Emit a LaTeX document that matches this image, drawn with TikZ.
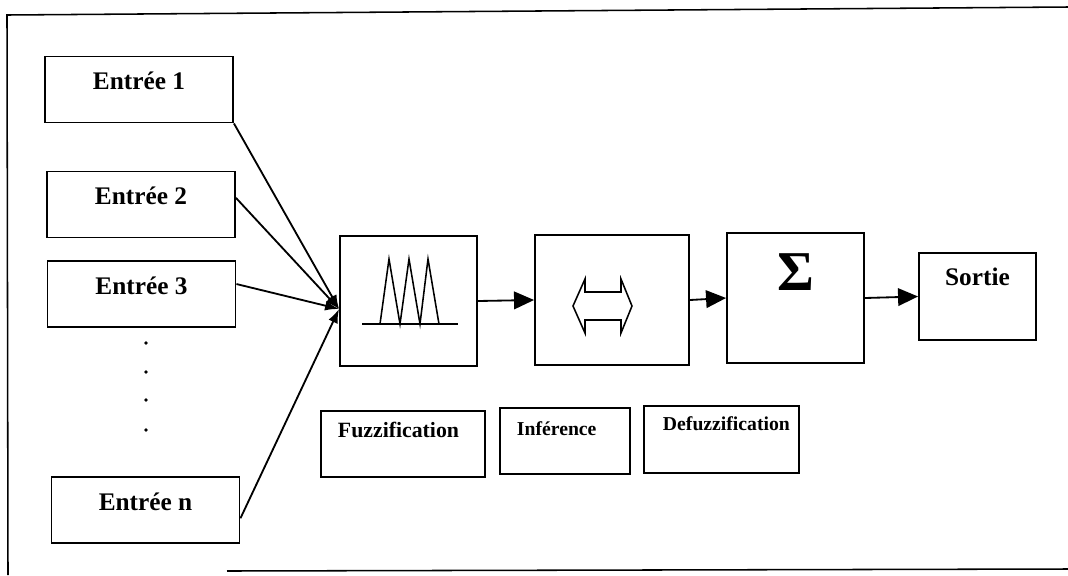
\documentclass[tikz,border=0pt]{standalone}
\usepackage{fontspec}
\setmainfont{Liberation Serif}
\usetikzlibrary{arrows.meta,positioning}

\begin{document}
\begin{tikzpicture}[x=0.025cm, y=-0.025cm, line width=1.3pt,
  entree/.style = {draw, shape = rectangle, inner sep = 0pt, minimum width = 4.7cm, minimum height = 1.65cm, text height = 0.5cm, text depth = 0.5cm, font = \fontsize{18}{20}\selectfont\bfseries},
  bloc/.style = {draw, shape = rectangle, inner sep = 0pt, minimum height = 3.25cm},
  etiq/.style = {draw, shape = rectangle, inner ysep = 0pt, align = left, font = \fontsize{14}{16}\selectfont\bfseries},
  fleche/.style = {-{Triangle[length=5mm, width=4.4mm]}}]
\useasboundingbox (0,0) rectangle (1068,575);
% cadre
\draw[line width=1.1pt] (8,575) -- (7,15) -- (1068,7);
\draw[line width=1.1pt] (227,571) -- (1068,569);
% entrees
\node[entree] (e1) at (139,89.5) {Entrée 1};
\node[entree] (e2) at (141,204.5) {Entrée 2};
\node[entree] (e3) at (141.5,294) {Entrée 3};
\node[entree] (en) at (145.5,510) {Entrée n};
\foreach \y in {343,372,400,430}
  \fill (146,\y) circle (1.4pt);
% blocs
\node[bloc, minimum width = 3.425cm] (fz) at (408.5,301) {};
\node[bloc, minimum width = 3.85cm] (inf) at (612,300) {};
\node[bloc, minimum width = 3.425cm, text height = 1.425cm, text depth = 1.825cm, font = \fontsize{40}{42}\selectfont\bfseries] (df) at (795.5,298) {Σ};
\node[draw, shape = rectangle, inner sep = 0pt, minimum width = 2.925cm, minimum height = 2.175cm, text height = 0.8cm, text depth = 1.375cm, font = \fontsize{18}{20}\selectfont\bfseries] (so) at (977.5,296.5) {Sortie};
% etiquettes
\node[etiq, inner xsep = 0.425cm, text width = 3.25cm, text height = 0.65cm, text depth = 1cm, font = \fontsize{15.5}{17}\selectfont\bfseries] (lfz) at (403,444) {Fuzzification};
\node[etiq, inner xsep = 0.425cm, text width = 2.4cm, text height = 0.675cm, text depth = 0.975cm] (linf) at (565,441) {Inférence};
\node[etiq, inner xsep = 0.475cm, text width = 2.925cm, text height = 0.6cm, text depth = 1.075cm] (ldf) at (721.5,439.5) {Defuzzification};
% symboles
\draw[line width=1.1pt] (362,324) -- (458,324);
\draw[line width=1.1pt] (380,324) -- (389,259) -- (400,324) -- (409,259) -- (420,324) -- (428,259) -- (439,324);
\draw[line width=1.1pt] (573,306) -- (585,279) -- (585,292) -- (621,292) -- (621,279) -- (632,306) -- (621,333) -- (621,320) -- (585,320) -- (585,333) -- cycle;
% connexions
\coordinate (cv) at ([yshift=-0.2cm]fz.west);
\draw[-{Latex[length=3.5mm, width=2.5mm]}] (e1.south east) -- (cv);
\draw[-{Latex[length=3.5mm, width=2.5mm]}] (e2.4) -- (cv);
\draw[-{Latex[length=3.5mm, width=2.5mm]}] (e3.6) -- (cv);
\draw[-{Latex[length=3.5mm, width=2.5mm]}] (en.-5) -- (cv);
\draw[fleche] (fz.east) -- (inf.west);
\draw[fleche] (inf.east) -- (df.west);
\draw[fleche] (df.east) -- (so.west);
\end{tikzpicture}
\end{document}
